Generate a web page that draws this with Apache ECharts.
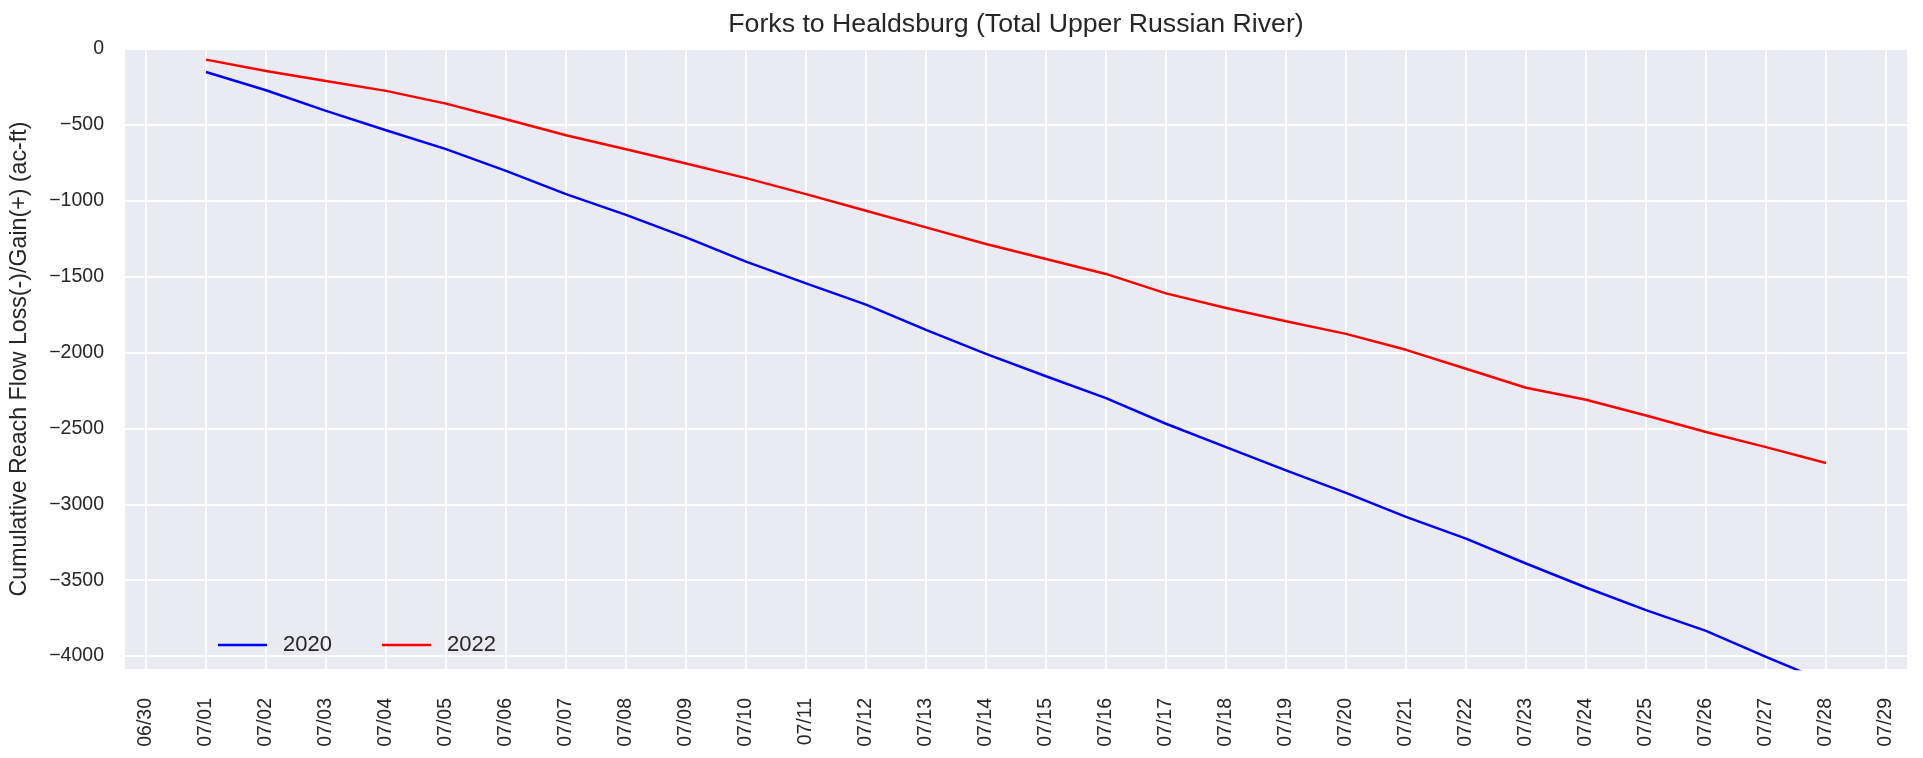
<!DOCTYPE html>
<html>
<head>
<meta charset="utf-8">
<script src="https://cdn.jsdelivr.net/npm/echarts@6/dist/echarts.min.js"></script>
<style>
  html, body { margin: 0; padding: 0; background: #ffffff; }
  #chart { width: 1923px; height: 758px; }
</style>
</head>
<body>
<div id="chart"></div>
<script>
// Tick labels for the x axis (index 0 = 06/30)
const dateLabels = ['06/30','07/01','07/02','07/03','07/04','07/05','07/06','07/07','07/08','07/09',
  '07/10','07/11','07/12','07/13','07/14','07/15','07/16','07/17','07/18','07/19',
  '07/20','07/21','07/22','07/23','07/24','07/25','07/26','07/27','07/28','07/29'];

// Days with data: 07/01 .. 07/28 (indices into dateLabels)
const dayIndex = [1,2,3,4,5,6,7,8,9,10,11,12,13,14,15,16,17,18,19,20,21,22,23,24,25,26,27,28];

// Cumulative reach flow loss(-)/gain(+) (ac-ft)
const values2020 = [-152,-272,-408,-535,-660,-803,-956,-1093,-1241,-1401,-1544,-1684,-1851,-2009,
  -2156,-2300,-2469,-2623,-2776,-2925,-3083,-3226,-3390,-3548,-3697,-3834,-4005,-4170];
const values2022 = [-70,-145,-211,-276,-360,-463,-568,-660,-754,-851,-956,-1066,-1175,-1285,
  -1384,-1482,-1610,-1706,-1794,-1877,-1982,-2107,-2232,-2311,-2415,-2524,-2623,-2728];

const seriesNames = ['2020', '2022'];
const seriesColors = ['#0000ff', '#ff0000'];
const titleText = 'Forks to Healdsburg (Total Upper Russian River)';
const yAxisTitle = 'Cumulative Reach Flow Loss(-)/Gain(+) (ac-ft)';

const pair = (xs, ys) => xs.map((x, i) => [x, ys[i]]);
const FONT = "'Liberation Sans', Arial, sans-serif";
const TXT = '#262626';

const chart = echarts.init(document.getElementById('chart'), null, { renderer: 'canvas' });
chart.setOption({
  backgroundColor: '#ffffff',
  animation: false,
  title: {
    text: titleText,
    left: 1011,
    textAlign: 'center',
    top: 6,
    textStyle: { fontFamily: FONT, fontSize: 26.7, fontWeight: 'normal', color: TXT }
  },
  grid: {
    left: 124, right: 16, top: 49, bottom: 89,
    show: true, backgroundColor: '#EAEAF2', borderWidth: 0,
    containLabel: false
  },
  legend: {
    left: 213, top: 629,
    icon: 'rect',
    itemWidth: 49, itemHeight: 2.5, itemGap: 50,
    data: seriesNames,
    textStyle: { fontFamily: FONT, fontSize: 22, color: TXT, padding: [0, 0, 0, 11] }
  },
  xAxis: {
    type: 'value',
    min: -0.35, max: 29.35,
    minInterval: 1, maxInterval: 1,
    axisLine: { show: false },
    axisTick: { show: false },
    splitLine: { show: true, showMinLine: false, showMaxLine: false, lineStyle: { color: '#ffffff', width: 2 } },
    axisLabel: {
      rotate: 90, margin: 29,
      fontFamily: FONT, fontSize: 19.5, color: TXT,
      showMinLabel: false, showMaxLabel: false,
      formatter: function (v) {
        if (Math.abs(v - Math.round(v)) > 1e-6) return '';
        const i = Math.round(v);
        return (i >= 0 && i < dateLabels.length) ? dateLabels[i] : '';
      }
    }
  },
  yAxis: {
    type: 'value',
    min: -4085, max: 0,
    minInterval: 500, maxInterval: 500,
    axisLine: { show: false },
    axisTick: { show: false },
    splitLine: { show: true, showMinLine: false, lineStyle: { color: '#ffffff', width: 2 } },
    axisLabel: {
      margin: 21,
      fontFamily: FONT, fontSize: 19.5, color: TXT,
      showMinLabel: false,
      formatter: function (v) {
        if (Math.abs(v % 500) > 1e-6) return '';
        return String(v).replace('-', '\u2212');
      }
    },
    name: yAxisTitle,
    nameLocation: 'middle',
    nameGap: 94,
    nameTextStyle: { fontFamily: FONT, fontSize: 23.2, color: TXT }
  },
  series: [
    {
      name: seriesNames[0], type: 'line', data: pair(dayIndex, values2020),
      symbol: 'none', clip: true,
      lineStyle: { color: seriesColors[0], width: 2.5 }, itemStyle: { color: seriesColors[0] }
    },
    {
      name: seriesNames[1], type: 'line', data: pair(dayIndex, values2022),
      symbol: 'none', clip: true,
      lineStyle: { color: seriesColors[1], width: 2.5 }, itemStyle: { color: seriesColors[1] }
    }
  ]
});
</script>
</body>
</html>
